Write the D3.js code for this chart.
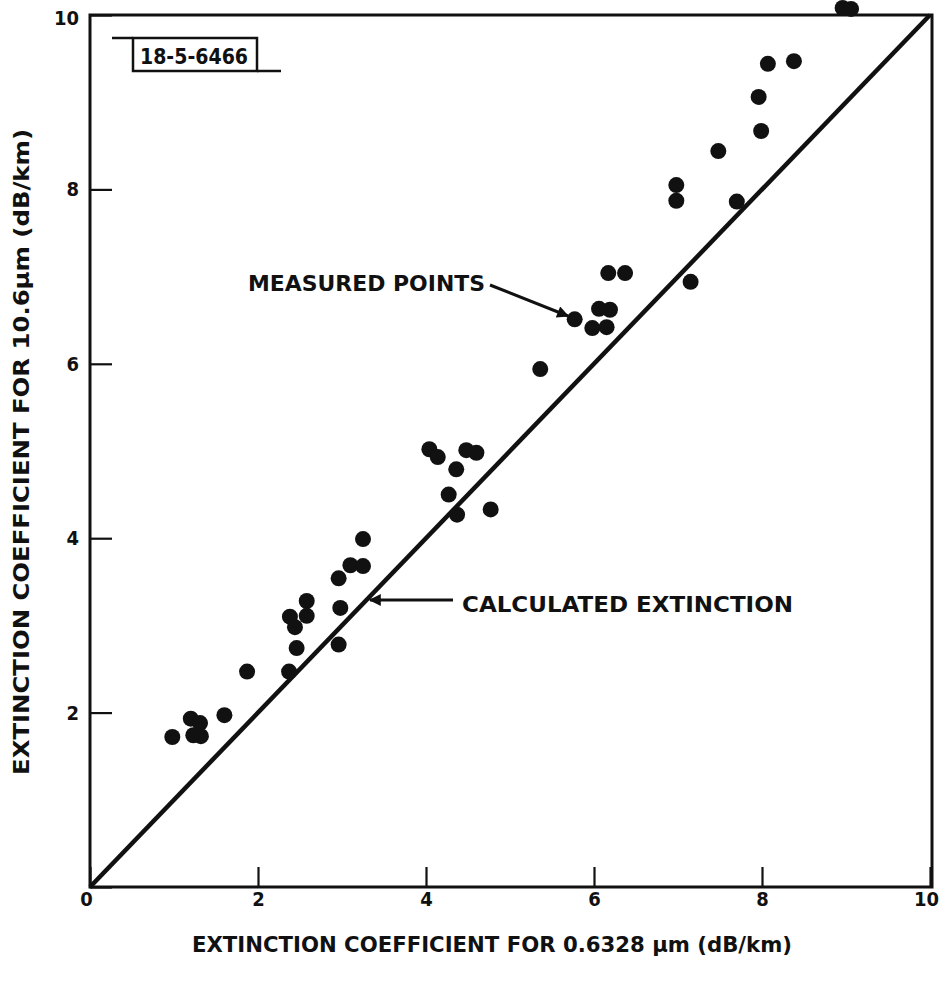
<!DOCTYPE html>
<html>
<head>
<meta charset="utf-8">
<script src="https://cdn.jsdelivr.net/npm/d3@7/dist/d3.min.js"></script>
<style>
  html, body { margin: 0; padding: 0; background: #fff; }
  svg { display: block; }
  text { font-family: "DejaVu Sans Condensed", "DejaVu Sans", sans-serif; font-weight: bold; fill: #111; }
</style>
</head>
<body>
<script>
// Measured extinction: 0.6328 µm (x) vs 10.6 µm (y), dB/km
const measuredX = [0.98, 1.20, 1.31, 1.23, 1.32, 1.60, 1.87, 2.37, 2.46, 2.38, 2.44, 2.58, 2.58,
                   2.96, 2.98, 2.96, 3.10, 3.25, 3.25, 4.04, 4.14, 4.48, 4.60, 4.36, 4.27, 4.37,
                   4.77, 5.36, 5.77, 6.06, 6.19, 5.98, 6.15, 6.17, 6.37, 7.15, 6.98, 6.98, 7.70,
                   7.48, 7.99, 7.96, 8.07, 8.38, 8.96, 9.06];
const measuredY = [1.72, 1.93, 1.88, 1.74, 1.73, 1.97, 2.47, 2.47, 2.74, 3.10, 2.98, 3.28, 3.11,
                   2.78, 3.20, 3.54, 3.69, 3.68, 3.99, 5.02, 4.93, 5.01, 4.98, 4.79, 4.50, 4.27,
                   4.33, 5.94, 6.51, 6.63, 6.62, 6.41, 6.42, 7.04, 7.04, 6.94, 8.05, 7.87, 7.86,
                   8.44, 8.67, 9.06, 9.44, 9.47, 10.08, 10.07];

// Calculated extinction (equal coefficients at both wavelengths)
const calcX = [0, 10];
const calcY = [0, 10];

const tickValues = [0, 2, 4, 6, 8, 10];
const tickLabels = ["0", "2", "4", "6", "8", "10"];

const xTitle = "EXTINCTION COEFFICIENT FOR 0.6328 \u03bcm (dB/km)";
const yTitle = "EXTINCTION COEFFICIENT FOR 10.6\u03bcm (dB/km)";
const figureId = "18-5-6466";
const measuredLabel = "MEASURED POINTS";
const calcLabel = "CALCULATED EXTINCTION";

const W = 942, H = 981;
const x = d3.scaleLinear().domain([0, 10]).range([90, 930]);
const y = d3.scaleLinear().domain([0, 10]).range([887, 15]);

const svg = d3.select("body").append("svg")
  .attr("width", W).attr("height", H)
  .attr("viewBox", `0 0 ${W} ${H}`);

svg.append("defs").append("marker")
  .attr("id", "head")
  .attr("viewBox", "0 0 10 10")
  .attr("refX", 9).attr("refY", 5)
  .attr("markerWidth", 5).attr("markerHeight", 4)
  .attr("markerUnits", "strokeWidth")
  .attr("orient", "auto")
  .append("path").attr("d", "M0,0 L10,5 L0,10 Z").attr("fill", "#111");

// plot frame
svg.append("rect")
  .attr("x", x(0)).attr("y", y(10))
  .attr("width", x(10) - x(0) + 2).attr("height", y(0) - y(10))
  .attr("fill", "none").attr("stroke", "#111").attr("stroke-width", 3);

// axes: inward ticks, labels outside
const fmt = (d) => tickLabels[tickValues.indexOf(d)];
const gx = svg.append("g").attr("transform", `translate(0,${y(0)})`)
  .call(d3.axisBottom(x).tickValues(tickValues).tickSize(-20).tickPadding(5).tickFormat(fmt));
const gy = svg.append("g").attr("transform", `translate(${x(0)},0)`)
  .call(d3.axisLeft(y).tickValues(tickValues).tickSize(-22).tickPadding(11).tickFormat(fmt));
[gx, gy].forEach(g => {
  g.select(".domain").remove();
  g.selectAll(".tick line").attr("stroke", "#111").attr("stroke-width", 2.2);
  g.selectAll(".tick text").attr("font-size", 20).attr("fill", "#111")
    .style("font-family", '"DejaVu Sans Condensed","DejaVu Sans",sans-serif').style("font-weight", "bold");
});
gx.selectAll(".tick text").filter(d => d === 0).attr("dx", -4);
gx.selectAll(".tick text").filter(d => d === 10).attr("dx", -4);
gy.selectAll(".tick").filter(d => d === 10).select("text").attr("dy", "0.45em");
gy.selectAll(".tick").filter(d => d === 0).select("text").remove();

// calculated extinction line
svg.append("path")
  .datum(calcX.map((d, i) => [d, calcY[i]]))
  .attr("d", d3.line().x(d => x(d[0])).y(d => y(d[1])))
  .attr("fill", "none").attr("stroke", "#111").attr("stroke-width", 4.5);

// measured points
svg.append("g").selectAll("circle")
  .data(measuredX.map((d, i) => [d, measuredY[i]]))
  .join("circle")
  .attr("cx", d => x(d[0])).attr("cy", d => y(d[1]))
  .attr("r", 8).attr("fill", "#111");

// axis titles
svg.append("text")
  .attr("x", 492).attr("y", 952)
  .attr("text-anchor", "middle").attr("font-size", 21)
  .attr("textLength", 600).attr("lengthAdjust", "spacingAndGlyphs")
  .text(xTitle);
svg.append("text")
  .attr("transform", "translate(29,452) rotate(-90)")
  .attr("text-anchor", "middle").attr("font-size", 21)
  .attr("textLength", 646).attr("lengthAdjust", "spacingAndGlyphs")
  .text(yTitle);

// figure number box
const box = svg.append("g");
box.append("rect").attr("x", 133).attr("y", 38).attr("width", 124).attr("height", 33)
  .attr("fill", "none").attr("stroke", "#111").attr("stroke-width", 2.5);
box.append("line").attr("x1", 112).attr("x2", 133).attr("y1", 38).attr("y2", 38)
  .attr("stroke", "#111").attr("stroke-width", 2.5);
box.append("line").attr("x1", 257).attr("x2", 281).attr("y1", 71).attr("y2", 71)
  .attr("stroke", "#111").attr("stroke-width", 2.5);
box.append("text").attr("x", 140).attr("y", 64).attr("font-size", 22)
  .attr("textLength", 108).attr("lengthAdjust", "spacingAndGlyphs")
  .text(figureId);

// annotations
svg.append("text").attr("x", 248).attr("y", 291).attr("font-size", 21)
  .attr("textLength", 237).attr("lengthAdjust", "spacingAndGlyphs")
  .text(measuredLabel);
svg.append("line").attr("x1", 490).attr("y1", 285).attr("x2", 568).attr("y2", 316)
  .attr("stroke", "#111").attr("stroke-width", 3).attr("marker-end", "url(#head)");

svg.append("text").attr("x", 462).attr("y", 612).attr("font-size", 21)
  .attr("textLength", 331).attr("lengthAdjust", "spacingAndGlyphs")
  .text(calcLabel);
svg.append("line").attr("x1", 453).attr("y1", 600).attr("x2", 370).attr("y2", 600)
  .attr("stroke", "#111").attr("stroke-width", 3).attr("marker-end", "url(#head)");
</script>
</body>
</html>
